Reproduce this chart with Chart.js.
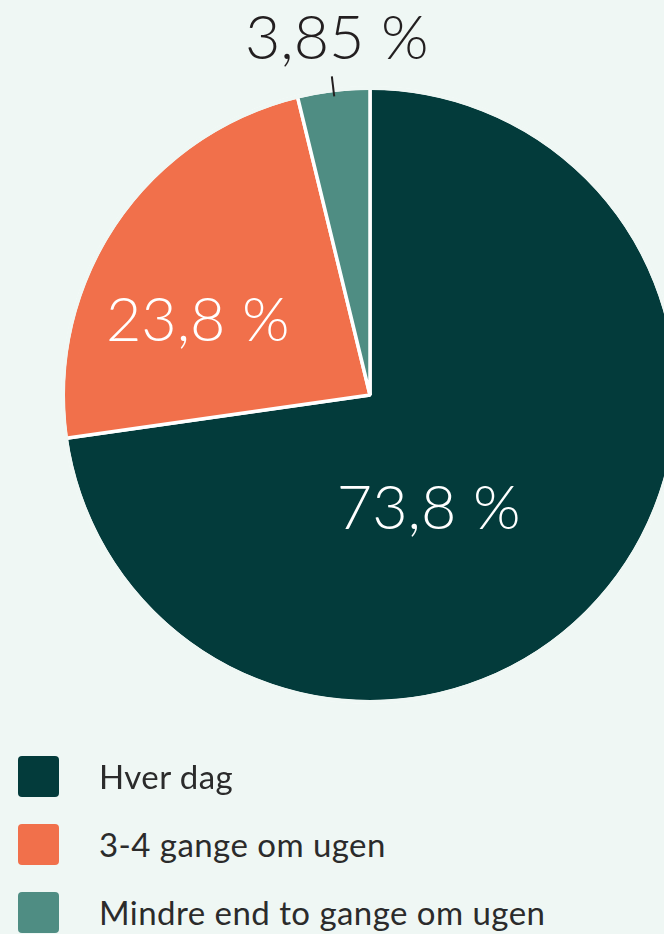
<!DOCTYPE html>
<html>
<head>
<meta charset="utf-8">
<script src="https://cdn.jsdelivr.net/npm/chart.js@4.4.0/dist/chart.umd.min.js"></script>
<style>
  html, body { margin: 0; padding: 0; background: #eff7f4; overflow: hidden; width: 664px; height: 934px; }
  #myCanvas { position: absolute; left: 0; top: 0; }
  #legend { position: absolute; left: 18px; top: 756px; font-family: "Lato", sans-serif; font-size: 33px; letter-spacing: 0.45px; color: #2b2b2b; }
  .item { position: relative; height: 68px; }
  .box { position: absolute; left: 0; top: 0; width: 41px; height: 41px; border-radius: 4px; }
  .txt { position: absolute; left: 81px; top: 0px; white-space: nowrap; }
</style>
</head>
<body>
<canvas id="myCanvas" width="740" height="790"></canvas>
<div id="legend"></div>
<script>
var labels = ["Hver dag", "3-4 gange om ugen", "Mindre end to gange om ugen"];
var values = [73.8, 23.8, 3.85];
var colors = ["#033b3b", "#f1704b", "#4f8d83"];

// where each value label sits: [extra angle in degrees, radius fraction]
var labelPlace = [[22, 0.42], [-11, 0.61], [1.5, 1.165]];
var labelColor = ["#ffffff", "#ffffff", "#231f20"];

var legend = document.getElementById("legend");
for (var i in labels) {
  var row = document.createElement("div");
  row.className = "item";
  row.innerHTML = '<div class="box" style="background:' + colors[i] + '"></div><div class="txt">' + labels[i] + "</div>";
  legend.appendChild(row);
}

var valueLabels = {
  id: "valueLabels",
  afterDatasetsDraw: function (chart) {
    var ctx = chart.ctx;
    var arcs = chart.getDatasetMeta(0).data;
    ctx.save();
    // hide the white border on the outer rim, keep it only between slices
    ctx.strokeStyle = "#eff7f4";
    ctx.lineWidth = 4;
    ctx.beginPath();
    ctx.arc(arcs[0].x, arcs[0].y, arcs[0].outerRadius, 0, Math.PI * 2);
    ctx.stroke();

    ctx.font = "300 61px Lato";
    ctx.textAlign = "center";
    ctx.textBaseline = "middle";
    for (var i = 0; i < arcs.length; i++) {
      var a = arcs[i];
      var mid = (a.startAngle + a.endAngle) / 2;
      var ang = mid + labelPlace[i][0] * Math.PI / 180;
      var r = a.outerRadius * labelPlace[i][1];
      var x = a.x + Math.cos(ang) * r;
      var y = a.y + Math.sin(ang) * r;
      ctx.fillStyle = labelColor[i];
      ctx.fillText(String(values[i]).replace(".", ",") + " %", x, y);
      if (labelPlace[i][1] > 1) {
        // small leader line for the outside label
        ctx.strokeStyle = "#231f20";
        ctx.lineWidth = 2;
        ctx.beginPath();
        ctx.moveTo(a.x + Math.cos(mid) * a.outerRadius * 0.98, a.y + Math.sin(mid) * a.outerRadius * 0.98);
        ctx.lineTo(a.x + Math.cos(mid) * a.outerRadius * 1.045, a.y + Math.sin(mid) * a.outerRadius * 1.045);
        ctx.stroke();
      }
    }
    ctx.restore();
  }
};

var ctx = document.getElementById("myCanvas");
var pie = new Chart(ctx, {
  type: "pie",
  data: {
    labels: labels,
    datasets: [
      {
        data: values,
        backgroundColor: colors,
        borderColor: "#ffffff",
        borderWidth: 3.5,
        radius: 307
      }
    ]
  },
  options: {
    responsive: false,
    animation: false,
    layout: { padding: 0 },
    plugins: {
      legend: { display: false },
      tooltip: { enabled: false }
    }
  },
  plugins: [valueLabels]
});
</script>
</body>
</html>
